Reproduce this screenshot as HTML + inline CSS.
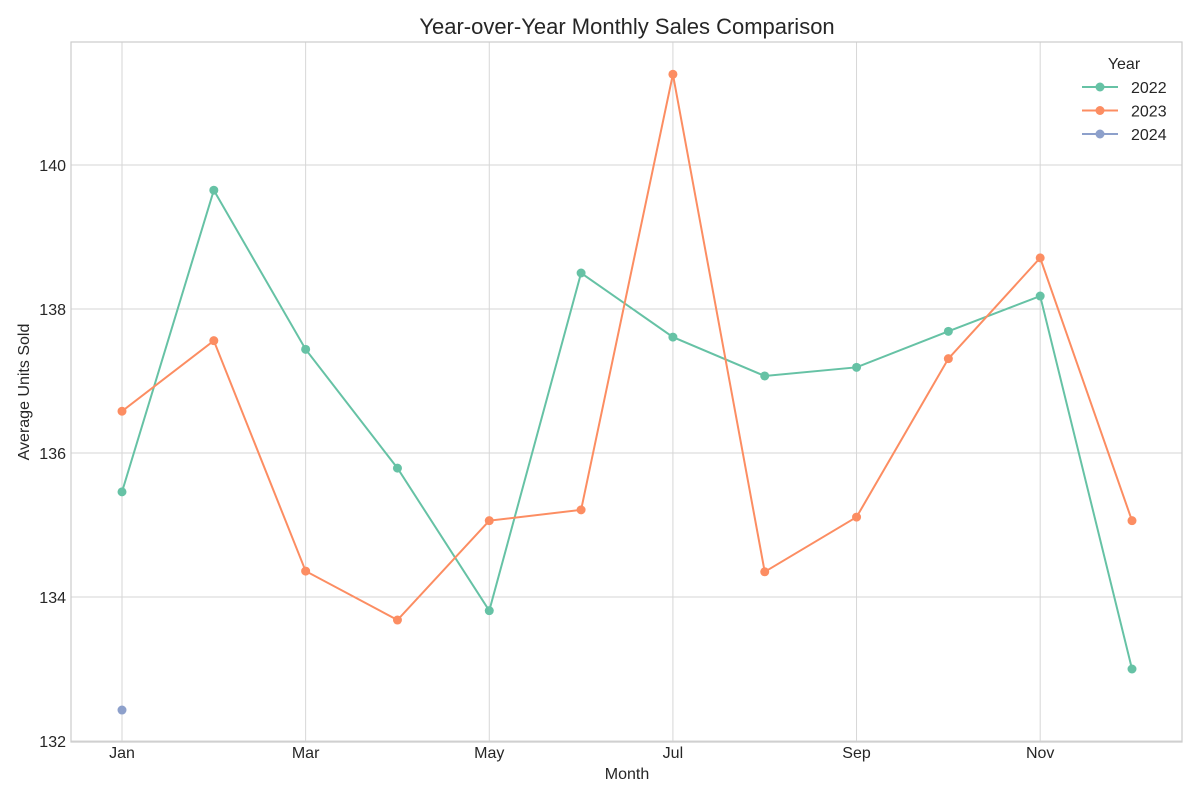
<!DOCTYPE html>
<html><head><meta charset="utf-8"><style>
body{margin:0;background:#fff;font-family:"Liberation Sans",sans-serif}
</style></head><body>
<svg id="chart" width="1200" height="800" xmlns="http://www.w3.org/2000/svg"></svg>
<script>
const months = ["Jan","Feb","Mar","Apr","May","Jun","Jul","Aug","Sep","Oct","Nov","Dec"];
const xTickLabels = ["Jan","Mar","May","Jul","Sep","Nov"];
const yTicks = [132,134,136,138,140];
const sales2022 = [135.46,139.65,137.44,135.79,133.81,138.5,137.61,137.07,137.19,137.69,138.18,133.0];
const sales2023 = [136.58,137.56,134.36,133.68,135.06,135.21,141.26,134.35,135.11,137.31,138.71,135.06];
const sales2024 = [132.43];
const years = ["2022","2023","2024"];

const NS="http://www.w3.org/2000/svg";
const svg=document.getElementById('chart');
const L=71,R=1182,T=42,B=742;
const x=i=>122+i*(1132-122)/11;
const y=v=>165+(140-v)*72;
function mk(tag,attrs,parent){const e=document.createElementNS(NS,tag);for(const k in attrs)e.setAttribute(k,attrs[k]);(parent||svg).appendChild(e);return e;}

const grid=mk('g',{});


yTicks.forEach(t=>{
  mk('line',{x1:L,x2:R,y1:y(t),y2:y(t),stroke:'#d6d6d6','stroke-width':1},grid);
  const tx=mk('text',{x:66,y:y(t)+6,'text-anchor':'end','font-size':16,fill:'#262626'});
  tx.textContent=t;
  
  
});
xTickLabels.forEach(m=>{
  const i=months.indexOf(m);
  mk('line',{x1:x(i),x2:x(i),y1:T,y2:B,stroke:'#d6d6d6','stroke-width':1},grid);
  const tx=mk('text',{x:x(i),y:758,'text-anchor':'middle','font-size':16,fill:'#262626'});
  tx.textContent=m;
  
  
});
const frame=mk('rect',{x:L,y:T,width:R-L,height:B-T,fill:'none',stroke:'#cccccc','stroke-width':1.2});



const series=[[sales2022,'#66c2a5'],[sales2023,'#fc8d62'],[sales2024,'#8da0cb']];
series.forEach(([data,c],si)=>{
  const g=mk('g',{});
  
  
  if(data.length>1){
    const p=mk('polyline',{points:data.map((v,i)=>x(i)+','+y(v)).join(' '),fill:'none',stroke:c,'stroke-width':2},g);
    
    
  }
  data.forEach((v,i)=>{
    const d=mk('circle',{cx:x(i),cy:y(v),r:4.5,fill:c},g);
    
    
  });
});

const title=mk('text',{x:627,y:34,'text-anchor':'middle','font-size':22,fill:'#262626'});
title.textContent='Year-over-Year Monthly Sales Comparison';


const xt=mk('text',{x:627,y:779,'text-anchor':'middle','font-size':16,fill:'#262626'});
xt.textContent='Month';


const yt=mk('text',{x:0,y:0,'text-anchor':'middle','font-size':16,fill:'#262626',transform:'translate(29,392) rotate(-90)'});
yt.textContent='Average Units Sold';



const lg=mk('g',{});


const lt=mk('text',{x:1124,y:69,'text-anchor':'middle','font-size':16,fill:'#262626'},lg);
lt.textContent='Year';


series.forEach(([d,c],i)=>{
  const yy=87+i*23.5;
  const e=mk('g',{},lg);
  
  
  mk('line',{x1:1082,x2:1118,y1:yy,y2:yy,stroke:c,'stroke-width':2},e);
  mk('circle',{cx:1100,cy:yy,r:4.5,fill:c},e);
  const t=mk('text',{x:1131,y:yy+6,'font-size':16,fill:'#262626'},e);
  t.textContent=years[i];
});
</script>
</body></html>
